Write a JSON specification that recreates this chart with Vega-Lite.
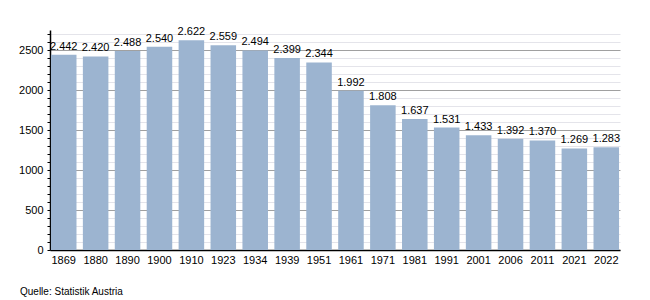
{
  "$schema": "https://vega.github.io/schema/vega-lite/v6.json",
  "autosize": "none",
  "width": 570,
  "height": 220,
  "padding": {"left": 50, "top": 30, "right": 30, "bottom": 50},
  "background": "white",
  "config": {
    "view": {"stroke": null},
    "font": "Liberation Sans",
    "locale": {"number": {"decimal": ",", "thousands": ".", "grouping": [3], "currency": ["", " €"]}}
  },
  "title": {
    "text": "Quelle: Statistik Austria",
    "orient": "bottom",
    "anchor": "start",
    "frame": "group",
    "dx": -30,
    "offset": 22,
    "fontSize": 10,
    "fontWeight": "normal",
    "color": "#000"
  },
  "data": {
    "values": [
      {"jahr": "1869", "einwohner": 2442},
      {"jahr": "1880", "einwohner": 2420},
      {"jahr": "1890", "einwohner": 2488},
      {"jahr": "1900", "einwohner": 2540},
      {"jahr": "1910", "einwohner": 2622},
      {"jahr": "1923", "einwohner": 2559},
      {"jahr": "1934", "einwohner": 2494},
      {"jahr": "1939", "einwohner": 2399},
      {"jahr": "1951", "einwohner": 2344},
      {"jahr": "1961", "einwohner": 1992},
      {"jahr": "1971", "einwohner": 1808},
      {"jahr": "1981", "einwohner": 1637},
      {"jahr": "1991", "einwohner": 1531},
      {"jahr": "2001", "einwohner": 1433},
      {"jahr": "2006", "einwohner": 1392},
      {"jahr": "2011", "einwohner": 1370},
      {"jahr": "2021", "einwohner": 1269},
      {"jahr": "2022", "einwohner": 1283}
    ]
  },
  "encoding": {
    "x": {
      "field": "jahr",
      "type": "nominal",
      "sort": null,
      "scale": {"paddingInner": 0.2, "paddingOuter": 0.03},
      "axis": {
        "title": null,
        "labelAngle": 0,
        "labelFontSize": 11,
        "labelColor": "#000",
        "domainColor": "#000",
        "domainWidth": 1.5,
        "ticks": false,
        "labelPadding": 4
      }
    },
    "y": {
      "field": "einwohner",
      "type": "quantitative",
      "scale": {"domain": [0, 2750], "nice": false},
      "axis": {
        "title": null,
        "values": [0,100,200,300,400,500,600,700,800,900,1000,1100,1200,1300,1400,1500,1600,1700,1800,1900,2000,2100,2200,2300,2400,2500,2600,2700],
        "labelExpr": "datum.value % 500 === 0 ? format(datum.value, 'd') : ''",
        "labelFontSize": 11,
        "labelColor": "#000",
        "labelPadding": 4,
        "domainColor": "#000",
        "domainWidth": 1.5,
        "tickColor": "#000",
        "tickSize": 3,
        "grid": true,
        "gridColor": {"condition": {"test": "datum.value % 500 === 0", "value": "#a0a0a0"}, "value": "#e4e4ea"},
        "gridWidth": 1
      }
    }
  },
  "layer": [
    {
      "mark": {"type": "bar", "color": "#9cb4d0"}
    },
    {
      "mark": {"type": "text", "baseline": "bottom", "dy": -3, "fontSize": 11, "color": "#000"},
      "encoding": {
        "text": {"field": "einwohner", "type": "quantitative", "format": ",d"}
      }
    }
  ]
}
